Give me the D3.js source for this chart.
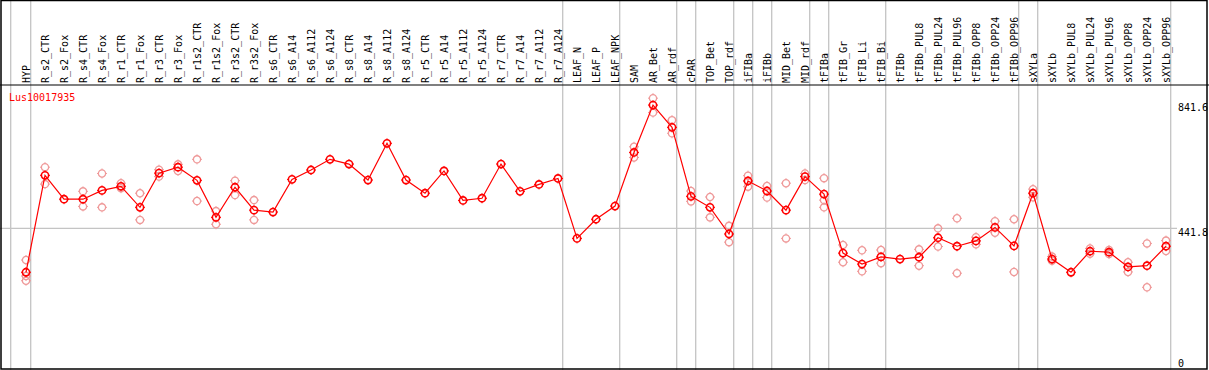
<!DOCTYPE html>
<html>
<head>
<meta charset="utf-8">
<script src="https://cdn.jsdelivr.net/npm/d3@7"></script>
<style>
	body { margin: 0; background: #fff; }
	svg text { font-family: 'DejaVu Sans Mono', 'Liberation Mono', monospace; font-size: 10px; }
</style>
</head>
<body>
<div id="chart"></div>
<script>
/**
 * Data
 * */
const geneName = 'Lus10017935'

const categories = [
	'HYP',
	'R_s2_CTR', 'R_s2_Fox', 'R_s4_CTR', 'R_s4_Fox', 'R_r1_CTR', 'R_r1_Fox', 'R_r3_CTR', 'R_r3_Fox',
	'R_r1s2_CTR', 'R_r1s2_Fox', 'R_r3s2_CTR', 'R_r3s2_Fox',
	'R_s6_CTR', 'R_s6_A14', 'R_s6_A112', 'R_s6_A124', 'R_s8_CTR', 'R_s8_A14', 'R_s8_A112', 'R_s8_A124',
	'R_r5_CTR', 'R_r5_A14', 'R_r5_A112', 'R_r5_A124', 'R_r7_CTR', 'R_r7_A14', 'R_r7_A112', 'R_r7_A124',
	'LEAF_N', 'LEAF_P', 'LEAF_NPK', 'SAM', 'AR_Bet', 'AR_rdf', 'cPAR', 'TOP_Bet', 'TOP_rdf',
	'iFIBa', 'iFIBb', 'MID_Bet', 'MID_rdf', 'tFIBa', 'tFIB_Gr', 'tFIB_Li', 'tFIB_Bi',
	'tFIBb', 'tFIBb_PUL8', 'tFIBb_PUL24', 'tFIBb_PUL96', 'tFIBb_OPP8', 'tFIBb_OPP24', 'tFIBb_OPP96',
	'sXYLa', 'sXYLb', 'sXYLb_PUL8', 'sXYLb_PUL24', 'sXYLb_PUL96', 'sXYLb_OPP8', 'sXYLb_OPP24', 'sXYLb_OPP96'
]

// mean expression per sample
const means = [
	302,
	611, 535, 535, 563, 576, 509, 618, 637,
	595, 477, 573, 500,
	494, 598, 628, 662, 647, 596, 713, 596,
	554, 625, 531, 538, 647, 560, 582, 601,
	410, 471, 513, 684, 835, 764, 544, 509, 424,
	593, 561, 500, 607, 551, 363, 328, 351,
	344, 350, 412, 385, 402, 445, 386,
	554, 344, 302, 369, 366, 319, 323, 385
]

// individual replicates (empty where they sit under the mean)
const replicates = [
	[341, 290, 275],
	[637, 583], [], [560, 512], [617, 509], [586, 570], [554, 469], [629, 607], [646, 625],
	[662, 529], [497, 455], [594, 548], [532, 469],
	[], [], [], [], [], [], [], [],
	[], [], [], [], [], [], [], [],
	[], [], [], [702, 668], [857, 811], [787, 745], [561, 528], [542, 477], [450, 398],
	[610, 575], [577, 540], [586, 410], [617, 596], [602, 532, 509], [389, 334], [372, 305], [373, 331],
	[], [375, 323], [442, 384], [474, 299], [414, 391], [465, 428], [471, 303],
	[567, 541], [352, 339], [], [378, 361], [373, 360], [334, 303], [394, 254], [403, 370]
]

// a grey divider is drawn after these samples
const groupEnds = ['HYP', 'R_r7_A124', 'LEAF_NPK', 'AR_rdf', 'cPAR', 'TOP_rdf', 'iFIBa', 'iFIBb',
	'MID_rdf', 'tFIBa', 'tFIB_Bi', 'tFIBb_OPP96', 'sXYLa', 'sXYLb_OPP96']

const yMax = 841.6
const refValue = 441.8
const yTicks = [yMax, refValue, 0]

/**
 * Layout
 * */
const width = 1209
const height = 370
const headerBottom = 85

const $svg = d3.select('#chart')
	.append('svg')
	.attr('width', width)
	.attr('height', height)

const x = d3.scaleBand()
	.domain(categories)
	.range([16.5, 16.5 + 19 * categories.length])

const cx = d => x(d) + x.bandwidth() / 2

const y = d3.scaleLinear()
	.domain([0, yMax])
	.range([367, 103])

const grey = '#c4c4c4'

// vertical dividers, full height
const dividers = [cx(categories[0]) - 15.3].concat(groupEnds.map(d => cx(d) + 4.7))
$svg.selectAll('.divider')
	.data(dividers)
	.join('line')
		.attr('class', 'divider')
		.attr('x1', d => d).attr('x2', d => d)
		.attr('y1', 0).attr('y2', height)
		.attr('stroke', grey)
		.attr('stroke-width', 1.3)

// reference line
$svg.append('line')
	.attr('x1', 0).attr('x2', 1177)
	.attr('y1', y(refValue)).attr('y2', y(refValue))
	.attr('stroke', grey)
	.attr('stroke-width', 1.3)

// frame + header separator
$svg.append('rect')
	.attr('x', 1).attr('y', 0.5)
	.attr('width', 1206).attr('height', 368.5)
	.attr('fill', 'none')
	.attr('stroke', 'black')
	.attr('stroke-width', 1.5)

$svg.append('line')
	.attr('x1', 0).attr('x2', width)
	.attr('y1', headerBottom).attr('y2', headerBottom)
	.attr('stroke', 'black')
	.attr('stroke-width', 1.2)

// sample labels, rotated
$svg.selectAll('.label')
	.data(categories)
	.join('text')
		.attr('class', 'label')
		.attr('transform', d => `translate(${cx(d)}, 83)rotate(-90)`)
		.attr('dy', '0.36em')
		.attr('fill', 'black')
		.text(d => d)

// y value labels
$svg.selectAll('.ytick')
	.data(yTicks)
	.join('text')
		.attr('class', 'ytick')
		.attr('x', 1178)
		.attr('y', d => Math.min(y(d), 359))
		.attr('dy', '0.75em')
		.attr('fill', 'black')
		.text(d => d)

// gene name
$svg.append('text')
	.attr('x', 9)
	.attr('y', 100.5)
	.attr('fill', 'red')
	.attr('font-size', '10.5px')
	.text(geneName)

/**
 * Marks
 * */
const drawMarker = ($g, color, sw) => {
	$g.append('circle')
		.attr('r', 3.6)
		.attr('fill', 'none')
		.attr('stroke', color)
		.attr('stroke-width', sw)
	$g.append('path')
		.attr('d', 'M0,-5V-3.5M0,5V3.5M-5,0H-3.5M5,0H3.5')
		.attr('stroke', color)
		.attr('stroke-width', 1)
}

const repPoints = replicates.flatMap((reps, i) => reps.map(v => ({cat: categories[i], v})))

$svg.selectAll('.rep')
	.data(repPoints)
	.join('g')
		.attr('class', 'rep')
		.attr('transform', d => `translate(${cx(d.cat)}, ${y(d.v)})`)
		.each(function () { drawMarker(d3.select(this), '#ef9a9a', 1.3) })

const line = d3.line()
	.x((d, i) => cx(categories[i]))
	.y(d => y(d))

$svg.append('path')
	.datum(means)
	.attr('d', line)
	.attr('fill', 'none')
	.attr('stroke', 'red')
	.attr('stroke-width', 1.2)

$svg.selectAll('.mean')
	.data(means)
	.join('g')
		.attr('class', 'mean')
		.attr('transform', (d, i) => `translate(${cx(categories[i])}, ${y(d)})`)
		.each(function () { drawMarker(d3.select(this), 'red', 1.6) })
</script>
</body>
</html>
